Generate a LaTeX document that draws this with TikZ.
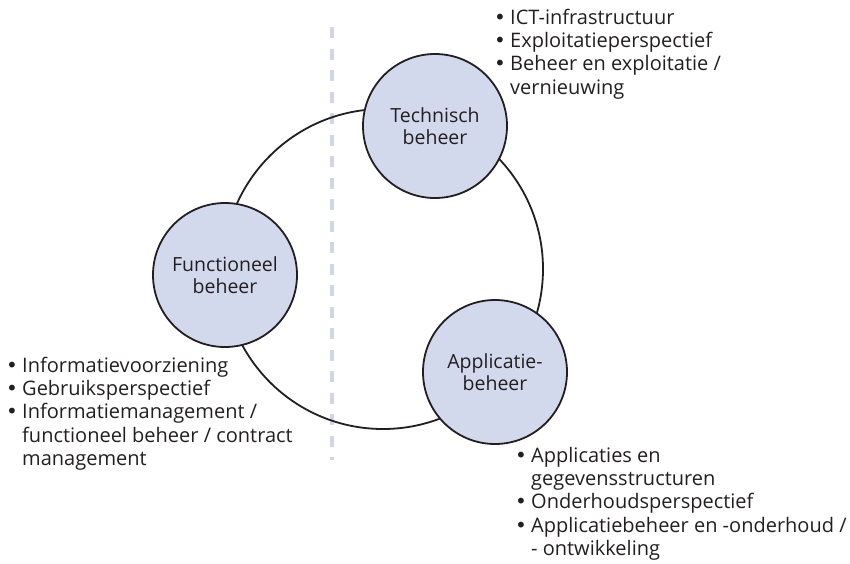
\documentclass[tikz,border=0pt]{standalone}
\usepackage{fontspec}
\setmainfont{Open Sans}
\newfontfamily\dotfont{DejaVu Sans}
\definecolor{ink}{HTML}{231F20}
\definecolor{bubblefill}{HTML}{D3D9EC}
\definecolor{divider}{HTML}{D0D6EA}
\newcommand{\bulletlist}[1]{%
  \parbox[t]{400pt}{\fontsize{20}{23.4}\selectfont\raggedright #1}}
\newcommand{\bitem}[1]{%
  \hangindent=16pt\hangafter=1\makebox[16pt][l]{{\dotfont •}}#1\par}
\begin{document}
\begin{tikzpicture}[x=1pt,y=-1pt,
  bubble/.style={circle, draw=ink, line width=1.8pt, fill=bubblefill,
    minimum size=144pt, inner sep=0pt, align=center, text=ink,
    font=\fontsize{19.5}{22.5}\selectfont},
  ring/.style={circle, draw=ink, line width=1.8pt, minimum size=320pt, inner sep=0pt},
  listtext/.style={anchor=base west, inner sep=0pt, text=ink},
  divline/.style={draw=divider, line width=4pt, dash pattern=on 11pt off 10.5pt}]
\useasboundingbox (0,0) rectangle (850,563);

% vertical divider
\coordinate (divtop) at (332,27);
\coordinate (divbot) at (332,460);
\draw[divline] (divtop) -- (divbot);

% the cycle connecting the three areas
\node[ring] (cycle) at (383,269) {};

% the three management areas
\node[bubble] (tech) at (435,126) {Technisch\\beheer};
\node[bubble] (func) at (225,275) {Functioneel\\beheer};
\node[bubble] (appl) at (495,372) {Applicatie-\\beheer};

% descriptions
\node[listtext] (techlist) at (494,24) {\bulletlist{%
  \bitem{ICT-infrastructuur}
  \bitem{Exploitatieperspectief}
  \bitem{Beheer en exploitatie /\newline vernieuwing}}};
\node[listtext] (funclist) at (6,372) {\bulletlist{%
  \bitem{Informatievoorziening}
  \bitem{Gebruiksperspectief}
  \bitem{Informatiemanagement /\newline functioneel beheer / contract\newline management}}};
\node[listtext] (appllist) at (515,462) {\bulletlist{%
  \bitem{Applicaties en\newline gegevensstructuren}
  \bitem{Onderhoudsperspectief}
  \bitem{Applicatiebeheer en -onderhoud /\newline - ontwikkeling}}};
\end{tikzpicture}
\end{document}
